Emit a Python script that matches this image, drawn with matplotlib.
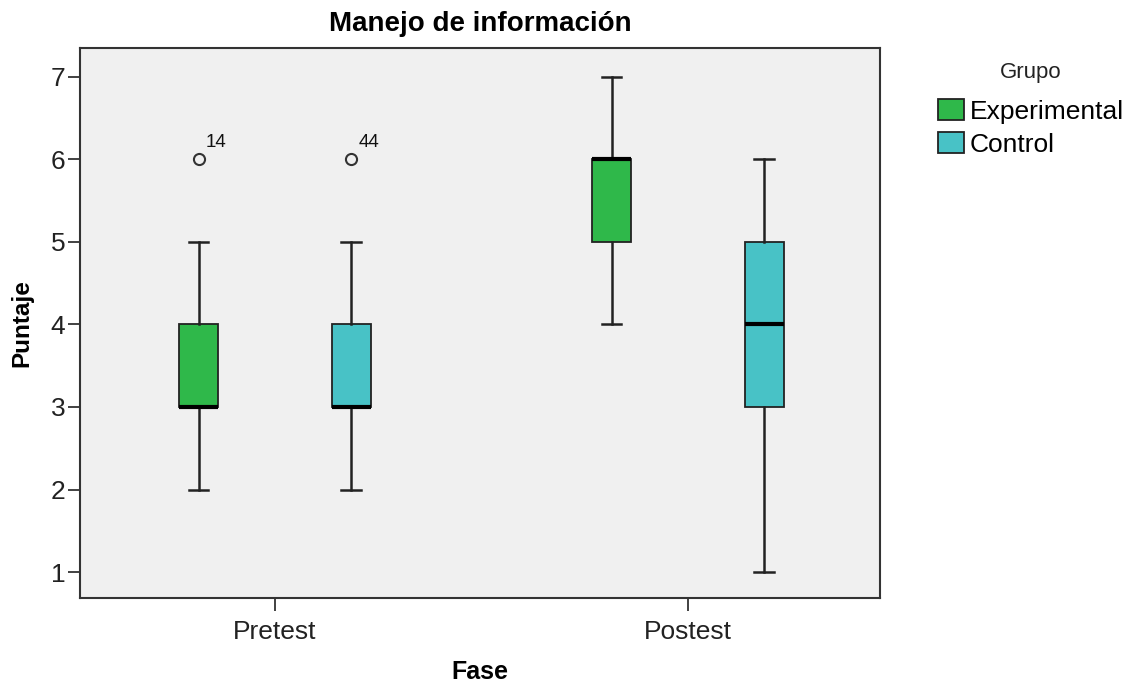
import numpy as np
import matplotlib.pyplot as plt
from matplotlib.patches import Patch

plt.rcParams['font.family'] = ['Liberation Sans', 'DejaVu Sans']

fases = ["Pretest", "Postest"]
grupos = ["Experimental", "Control"]
colores = ["#2fb84a", "#48c2c6"]

# estadisticos (fase x grupo)
whis_lo = [[2, 2], [4, 1]]
q1 = [[3, 3], [5, 3]]
mediana = [[3, 3], [6, 4]]
q3 = [[4, 4], [6, 5]]
whis_hi = [[5, 5], [7, 6]]
atipicos = [[[6], [6]], [[], []]]
casos = [[["14"], ["44"]], [[], []]]

fig = plt.figure(figsize=(11.32, 6.84), dpi=100)
ax = fig.add_axes([0.0707, 0.1257, 0.7067, 0.8041])
ax.set_facecolor("#f0f0f0")

offs = [-0.185, 0.185]
for i in range(len(fases)):
    for j in range(len(grupos)):
        st = dict(whislo=whis_lo[i][j], q1=q1[i][j], med=mediana[i][j],
                  q3=q3[i][j], whishi=whis_hi[i][j], fliers=atipicos[i][j])
        pos = i + offs[j]
        ax.bxp([st], positions=[pos], widths=0.093, patch_artist=True,
               boxprops=dict(facecolor=colores[j], edgecolor="#222222", linewidth=1.3),
               medianprops=dict(color="black", linewidth=3),
               whiskerprops=dict(color="#222222", linewidth=1.8),
               capprops=dict(color="#222222", linewidth=1.8),
               flierprops=dict(marker="o", markerfacecolor="none",
                               markeredgecolor="#333333", markersize=8, markeredgewidth=1.5),
               capwidths=0.048)
        for v, c in zip(atipicos[i][j], casos[i][j]):
            ax.annotate(c, (pos, v), xytext=(5, 8.6), textcoords="offset points",
                        fontsize=13.5, ha="left", va="baseline", color="#111111")

ax.set_xlim(-0.472, 1.465)
ax.set_ylim(0.685, 7.35)
ax.set_xticks(range(len(fases)))
ax.set_xticklabels(fases, fontsize=19, color="#222222")
ax.set_yticks(range(1, 8))
ax.set_yticklabels([str(k) for k in range(1, 8)], fontsize=19, color="#222222")
ax.tick_params(axis="y", length=9, width=1.3, color="#333333", pad=1.5)
ax.tick_params(axis="x", length=9, width=1.3, color="#333333", pad=7)
for s in ax.spines.values():
    s.set_color("#333333")
    s.set_linewidth(1.5)

ax.set_title("Manejo de información", fontsize=20, fontweight="bold", pad=12)
ax.set_xlabel("Fase", fontsize=18, fontweight="bold", labelpad=11)
ax.set_ylabel("Puntaje", fontsize=17.5, fontweight="bold", labelpad=12.5)

fig.text(1031 / 1132, 1 - 78 / 684, "Grupo", fontsize=16, ha="center",
         va="baseline", color="#222222")
handles = [Patch(facecolor=c, edgecolor="#222222", linewidth=1.3) for c in colores]
leg = fig.legend(handles, grupos, loc="upper left",
                 bbox_to_anchor=(938 / 1132, 1 - 99 / 684), frameon=False, fontsize=19,
                 handlelength=1.0, handleheight=0.87,
                 handletextpad=0.2, labelspacing=0.3, borderaxespad=0, borderpad=0)

fig.savefig("out.png", dpi=100)
